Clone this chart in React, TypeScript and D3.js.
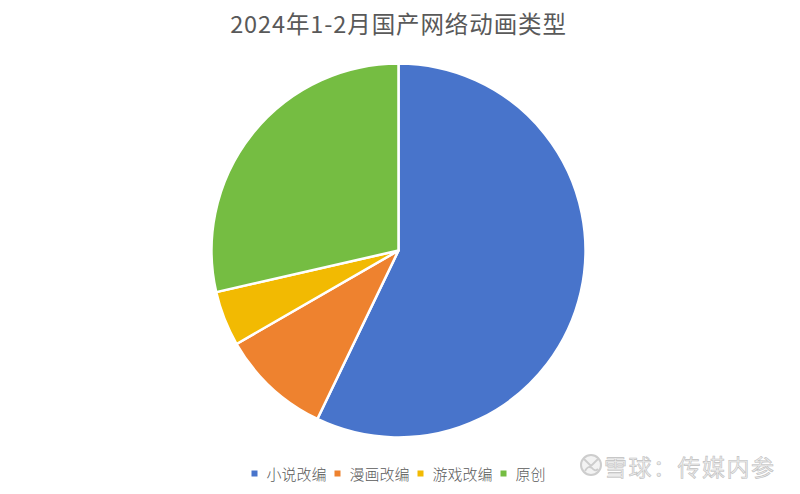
import React from "react";
import * as d3 from "d3";

const categories = ["小说改编", "漫画改编", "游戏改编", "原创"];
const values = [12, 2, 1, 6];
const colors = ["#4874CB", "#EE822F", "#F2BA02", "#75BD42"];
const title = "2024年1-2月国产网络动画类型";
const watermark = "雪球：传媒内参";

const W = 800;
const H = 494;
const cx = 398.5;
const cy = 250.5;
const R = 187;

export default function App() {
  const pie = d3.pie<number>().sort(null).value((d) => d)(values);
  const arc = d3.arc<d3.PieArcDatum<number>>().innerRadius(0).outerRadius(R);

  // legend layout
  const fs = 15;
  const sq = 6;
  const gapSqText = 9;
  const gapItem = 8;
  const itemWidths = categories.map((c) => sq + gapSqText + c.length * fs);
  const totalW = itemWidths.reduce((a, b) => a + b, 0) + gapItem * (categories.length - 1);
  let lx = cx - totalW / 2;
  const legendY = 473.5;
  const items = categories.map((c, i) => {
    const x = lx;
    lx += itemWidths[i] + gapItem;
    return { c, x, i };
  });

  return (
    <svg
      width={W}
      height={H}
      style={{ position: "absolute", left: 0, top: 0, background: "#fff" }}
      fontFamily="'Noto Sans CJK SC', 'Noto Sans', sans-serif"
    >
      <rect width={W} height={H} fill="#fff" />
      <text
        x={cx}
        y={33}
        textAnchor="middle"
        fontSize={23.5}
        fill="#595959"
        letterSpacing={0.9}
      >
        {title}
      </text>
      <g transform={`translate(${cx},${cy})`}>
        {pie.map((p, i) => (
          <path
            key={i}
            d={arc(p) || ""}
            fill={colors[i]}
            stroke="#fff"
            strokeWidth={2.5}
            strokeLinejoin="round"
          />
        ))}
      </g>
      <g>
        {items.map(({ c, x, i }) => (
          <g key={c}>
            <rect x={x} y={legendY - sq / 2} width={sq} height={sq} fill={colors[i]} />
            <text
              x={x + sq + gapSqText}
              y={legendY}
              dominantBaseline="central"
              fontSize={fs}
              fill="#595959"
              fontWeight={300}
            >
              {c}
            </text>
          </g>
        ))}
      </g>
      <g opacity={0.9}>
        <circle cx={591} cy={465} r={10} fill="#f2f2f2" stroke="#c8c8c8" strokeWidth={2} />
        <path
          d="M584 459 L591 466 L598 459 M585 471 Q588 465 592 468 Q595 472 598 469"
          fill="none"
          stroke="#c8c8c8"
          strokeWidth={1.8}
        />
        <text
          x={604}
          y={466}
          dominantBaseline="central"
          fontSize={23}
          fill="#ececec"
          stroke="#b8b8b8"
          strokeWidth={0.6}
          letterSpacing={1.5}
        >
          {watermark}
        </text>
      </g>
    </svg>
  );
}
